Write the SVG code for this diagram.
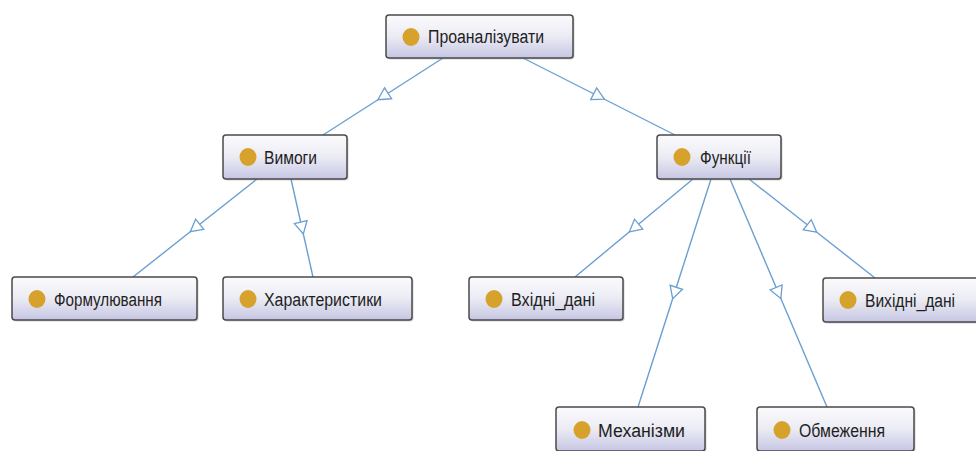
<svg xmlns="http://www.w3.org/2000/svg" width="976" height="451" viewBox="0 0 976 451">
<defs>
<linearGradient id="g" x1="0" y1="0" x2="0" y2="1">
<stop offset="0" stop-color="#fbfbfd"/>
<stop offset="0.5" stop-color="#ebebf4"/>
<stop offset="1" stop-color="#c6c6e4"/>
</linearGradient>
<marker id="tri" markerUnits="userSpaceOnUse" markerWidth="16" markerHeight="16" viewBox="-1 -8 15 16" refX="6" refY="0" orient="auto">
<path d="M0,-6.5 L12,0 L0,6.5 Z" fill="#ffffff" stroke="#6a9fd2" stroke-width="1.3"/>
</marker>
</defs>
<style>
.box{fill:url(#g);stroke:#4a4a4a;stroke-width:1.5}
.sh{fill:#9a9a9a;opacity:0.45}
.dot{fill:#d6a22c}
.t{font-family:"Liberation Sans",Arial,sans-serif;font-size:18px;fill:#1e1e1e}
.e{fill:none;stroke:#6a9fd2;stroke-width:1.4;marker-mid:url(#tri)}
</style>
<rect width="976" height="451" fill="#ffffff"/>
<g id="connectors">
<polyline class="e" points="443,58 383,96.5 323,135"/>
<polyline class="e" points="523,58 599,96.5 675,135"/>
<polyline class="e" points="257,179 195,228 133,277"/>
<polyline class="e" points="291,179 302,228 313,277"/>
<polyline class="e" points="693,179 634,228 575,277"/>
<polyline class="e" points="711,179 674.5,293 638,407"/>
<polyline class="e" points="730,179 778.5,293 827,407"/>
<polyline class="e" points="749,179 812,228.5 875,278"/>
</g>
<g id="n-proanalizuvaty">
<rect class="sh" x="387.5" y="16.5" width="187" height="43" rx="3"/>
<rect class="box" x="386" y="15" width="187" height="43" rx="3"/>
<ellipse class="dot" cx="411" cy="37" rx="8.5" ry="9"/>
<text class="t" x="428" y="43" textLength="116" lengthAdjust="spacingAndGlyphs">Проаналізувати</text>
</g>
<g id="n-vymohy">
<rect class="sh" x="224.5" y="136.5" width="124" height="44" rx="3"/>
<rect class="box" x="223" y="135" width="124" height="44" rx="3"/>
<ellipse class="dot" cx="248" cy="157" rx="8.5" ry="9"/>
<text class="t" x="264" y="163.5" textLength="53" lengthAdjust="spacingAndGlyphs">Вимоги</text>
</g>
<g id="n-funktsii">
<rect class="sh" x="658.5" y="136.5" width="124" height="44" rx="3"/>
<rect class="box" x="657" y="135" width="124" height="44" rx="3"/>
<ellipse class="dot" cx="682" cy="157" rx="8.5" ry="9"/>
<text class="t" x="700" y="163.5" textLength="51" lengthAdjust="spacingAndGlyphs">Функції</text>
</g>
<g id="n-formuliuvannia">
<rect class="sh" x="13.5" y="278.5" width="185" height="43" rx="3"/>
<rect class="box" x="12" y="277" width="185" height="43" rx="3"/>
<ellipse class="dot" cx="37" cy="299" rx="8.5" ry="9"/>
<text class="t" x="54" y="305.5" textLength="108" lengthAdjust="spacingAndGlyphs">Формулювання</text>
</g>
<g id="n-kharakterystyky">
<rect class="sh" x="224.5" y="278.5" width="189" height="43" rx="3"/>
<rect class="box" x="223" y="277" width="189" height="43" rx="3"/>
<ellipse class="dot" cx="248" cy="299" rx="8.5" ry="9"/>
<text class="t" x="264" y="305.5" textLength="118" lengthAdjust="spacingAndGlyphs">Характеристики</text>
</g>
<g id="n-vkhidni-dani">
<rect class="sh" x="470.5" y="278.5" width="154" height="43" rx="3"/>
<rect class="box" x="469" y="277" width="154" height="43" rx="3"/>
<ellipse class="dot" cx="494" cy="299" rx="8.5" ry="9"/>
<text class="t" x="511" y="305.5" textLength="84" lengthAdjust="spacingAndGlyphs">Вхідні_дані</text>
</g>
<g id="n-vykhidni-dani">
<rect class="sh" x="824.5" y="279.5" width="160" height="44" rx="3"/>
<rect class="box" x="823" y="278" width="160" height="44" rx="3"/>
<ellipse class="dot" cx="848" cy="300" rx="8.5" ry="9"/>
<text class="t" x="865" y="306.5" textLength="90" lengthAdjust="spacingAndGlyphs">Вихідні_дані</text>
</g>
<g id="n-mekhanizmy">
<rect class="sh" x="557.5" y="408.5" width="149" height="44" rx="3"/>
<rect class="box" x="556" y="407" width="149" height="44" rx="3"/>
<ellipse class="dot" cx="582" cy="430" rx="8.5" ry="9"/>
<text class="t" x="598" y="436.5" textLength="87" lengthAdjust="spacingAndGlyphs">Механізми</text>
</g>
<g id="n-obmezhennia">
<rect class="sh" x="758.5" y="408.5" width="157" height="44" rx="3"/>
<rect class="box" x="757" y="407" width="157" height="44" rx="3"/>
<ellipse class="dot" cx="782" cy="430" rx="8.5" ry="9"/>
<text class="t" x="799" y="436.5" textLength="86" lengthAdjust="spacingAndGlyphs">Обмеження</text>
</g>
</svg>
